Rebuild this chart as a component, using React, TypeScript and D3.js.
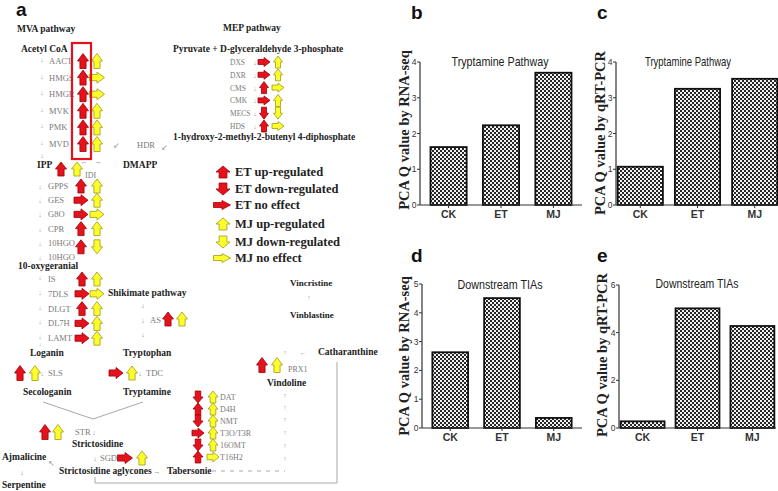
import React from 'react';
import * as d3 from 'd3';

type Dir = 'u' | 'd' | 'r' | null;

// ---------- bar chart data ----------
const groups = ['CK', 'ET', 'MJ'];
const tryptamineRnaSeq = [1.62, 2.23, 3.7];
const tryptamineQpcr = [1.07, 3.25, 3.53];
const downstreamRnaSeq = [2.63, 4.51, 0.35];
const downstreamQpcr = [0.28, 5.02, 4.28];
const ticksB = [0, 1, 2, 3, 4];
const ticksC = [0, 1, 2, 3, 4];
const ticksD = [0, 1, 2, 3, 4, 5];
const ticksE = [0, 2, 4, 6];

// ---------- pathway data (ET / MJ regulation) ----------
const mvaGenes = ['AACT', 'HMGS', 'HMGR', 'MVK', 'PMK', 'MVD'];
const mvaET: Dir[] = ['u', 'u', 'u', 'u', 'u', 'u'];
const mvaMJ: Dir[] = ['u', 'r', 'r', 'u', 'u', 'u'];

const mepGenes = ['DXS', 'DXR', 'CMS', 'CMK', 'MECS', 'HDS'];
const mepET: Dir[] = ['r', 'r', 'u', 'r', 'd', 'u'];
const mepMJ: Dir[] = ['u', 'u', 'r', 'u', 'd', 'r'];

const gppGenes = ['GPPS', 'GES', 'G8O', 'CPR', '10HGO', '10HGO'];
const gppET: Dir[] = ['u', 'r', 'r', 'u', 'u', null];
const gppMJ: Dir[] = ['u', 'u', 'r', 'u', 'd', null];

const iridGenes = ['IS', '7DLS', 'DLGT', 'DL7H', 'LAMT'];
const iridET: Dir[] = ['u', 'r', 'u', 'r', 'r'];
const iridMJ: Dir[] = ['u', 'r', 'u', 'u', 'u'];

const vinGenes = ['DAT', 'D4H', 'NMT', 'T3O/T3R', '16OMT', 'T16H2'];
const vinET: Dir[] = ['d', 'u', 'd', 'r', 'd', 'u'];
const vinMJ: Dir[] = ['u', 'u', 'u', 'u', 'u', 'r'];

const legendLabels = ['ET up-regulated', 'ET down-regulated', 'ET no effect', 'MJ up-regulated', 'MJ down-regulated', 'MJ no effect'];
const legendKinds: ('et' | 'mj')[] = ['et', 'et', 'et', 'mj', 'mj', 'mj'];
const legendDirs: Dir[] = ['u', 'd', 'r', 'u', 'd', 'r'];

const SERIF = '"Liberation Serif","Times New Roman",serif';
const SANS = '"Liberation Sans",Arial,sans-serif';
const NARROW = '"Liberation Sans Narrow","Arial Narrow","Liberation Sans",Arial,sans-serif';
const GENE_COLOR = '#7a7a7a';
const LINE_COLOR = '#a8a8a8';

function BlockArrow({ cx, cy, dir, kind, w, h }: { cx: number; cy: number; dir: Dir; kind: 'et' | 'mj'; w: number; h: number }) {
  if (!dir) return null;
  const hh = h * 0.5;
  const sw = w * 0.28;
  const p = [
    [0, -h / 2],
    [w / 2, -h / 2 + hh],
    [sw, -h / 2 + hh],
    [sw, h / 2],
    [-sw, h / 2],
    [-sw, -h / 2 + hh],
    [-w / 2, -h / 2 + hh],
  ];
  const d = 'M' + p.map((q) => q.join(',')).join('L') + 'Z';
  const rot = dir === 'u' ? 0 : dir === 'd' ? 180 : 90;
  const fill = kind === 'et' ? '#e4121c' : '#fdfd2c';
  const stroke = kind === 'et' ? '#a00008' : '#9e9a1a';
  return <path d={d} transform={`translate(${cx},${cy}) rotate(${rot})`} fill={fill} stroke={stroke} strokeWidth={0.8} />;
}

function GeneColumn(props: {
  genes: string[]; et: Dir[]; mj: Dir[]; labelX: number; y0: number; step: number;
  etX: number; mjX: number; w: number; h: number; downX?: number; fs?: number; arrowDy?: number[]; downDy?: number;
}) {
  const { genes, et, mj, labelX, y0, step, etX, mjX, w, h, downX, fs = 8.5, arrowDy, downDy = 3 } = props;
  return (
    <g>
      {genes.map((g, i) => {
        const y = y0 + i * step;
        const ady = arrowDy ? arrowDy[i] : 0;
        return (
          <g key={g + i}>
            <text x={labelX} y={y + 3} fontFamily={SERIF} fontSize={fs} fill={GENE_COLOR}>{g}</text>
            {downX !== undefined && (
              <text x={downX} y={y + downDy} fontFamily={SERIF} fontSize={7} fill="#999" textAnchor="middle">↓</text>
            )}
            <BlockArrow cx={etX} cy={y + ady} dir={et[i]} kind="et" w={w} h={h} />
            <BlockArrow cx={mjX} cy={y + ady} dir={mj[i]} kind="mj" w={w} h={h} />
          </g>
        );
      })}
    </g>
  );
}

function Bold({ x, y, children, fs = 9.5, anchor = 'start' }: { x: number; y: number; children: React.ReactNode; fs?: number; anchor?: string }) {
  return (
    <text x={x} y={y} fontFamily={SERIF} fontWeight="bold" fontSize={fs} fill="#222" textAnchor={anchor as any}>
      {children}
    </text>
  );
}

function Small({ x, y, children, fs = 7.5, color = '#999' }: { x: number; y: number; children: React.ReactNode; fs?: number; color?: string }) {
  return (
    <text x={x} y={y} fontFamily={SERIF} fontSize={fs} fill={color} textAnchor="middle">
      {children}
    </text>
  );
}

function BarPanel(props: {
  values: number[]; yMax: number; ticks: number[]; axisX: number; xStart: number; xEnd: number;
  y0: number; yTop: number; pi: number; po: number; title: string; titleX: number; titleY: number;
  titleLen: number; yTitle: string; yTitleX: number; yTitleY: number; letter: string; letterX: number; letterY: number;
}) {
  const p = props;
  const x = d3.scaleBand<string>().domain(groups).range([p.xStart, p.xEnd]).paddingInner(p.pi).paddingOuter(p.po);
  const y = d3.scaleLinear().domain([0, p.yMax]).range([p.y0, p.yTop]);
  return (
    <g>
      <text x={p.letterX} y={p.letterY} fontFamily={SANS} fontWeight="bold" fontSize={19} fill="#111">{p.letter}</text>
      <text x={p.yTitleX} y={p.yTitleY} transform={`rotate(-90,${p.yTitleX},${p.yTitleY})`} fontFamily={SERIF}
        fontWeight="bold" fontSize={14.5} fill="#222" textAnchor="middle">{p.yTitle}</text>
      <text x={p.titleX} y={p.titleY} fontFamily={NARROW} fontSize={13.5} fill="#222" textAnchor="middle"
        textLength={p.titleLen} lengthAdjust="spacingAndGlyphs">{p.title}</text>
      {groups.map((g, i) => (
        <rect key={g} x={x(g)!} y={y(p.values[i])} width={x.bandwidth()} height={p.y0 - y(p.values[i])}
          fill="url(#chk)" stroke="#111" strokeWidth={1.8} />
      ))}
      <line x1={p.axisX} x2={p.axisX} y1={p.y0} y2={p.yTop} stroke="#333" strokeWidth={1.2} />
      <line x1={p.axisX} x2={p.xEnd} y1={p.y0} y2={p.y0} stroke="#333" strokeWidth={1.2} />
      {p.ticks.map((t) => (
        <g key={t}>
          <line x1={p.axisX - 3} x2={p.axisX} y1={y(t)} y2={y(t)} stroke="#333" strokeWidth={1} />
          <text x={p.axisX - 3.5} y={y(t) + 3} fontFamily={SANS} fontSize={8.5} fill="#333" textAnchor="end">{t}</text>
        </g>
      ))}
      {groups.map((g) => (
        <g key={g}>
          <line x1={x(g)! + x.bandwidth() / 2} x2={x(g)! + x.bandwidth() / 2} y1={p.y0} y2={p.y0 + 3} stroke="#333" strokeWidth={1} />
          <text x={x(g)! + x.bandwidth() / 2} y={p.y0 + 13} fontFamily={NARROW} fontWeight="bold" fontSize={10.5} fill="#333" textAnchor="middle">{g}</text>
        </g>
      ))}
    </g>
  );
}

export default function App() {
  return (
    <svg width={778} height={491} viewBox="0 0 778 491" style={{ position: 'absolute', left: 0, top: 0, background: '#fff' }}>
      <defs>
        <pattern id="chk" width={4} height={4} patternUnits="userSpaceOnUse">
          <rect width={4} height={4} fill="#262626" />
          <rect width={2} height={2} fill="#f2f2f2" />
          <rect x={2} y={2} width={2} height={2} fill="#f2f2f2" />
        </pattern>
      </defs>
      <rect width={778} height={491} fill="#fff" />

      {/* ---------------- panel a ---------------- */}
      <text x={16} y={16} fontFamily={SANS} fontWeight="bold" fontSize={19} fill="#111">a</text>
      <Bold x={17} y={32}>MVA pathway</Bold>
      <Bold x={21} y={52}>Acetyl CoA</Bold>
      <Bold x={223} y={31}>MEP pathway</Bold>
      <Bold x={173} y={52}>Pyruvate + D-glyceraldehyde 3-phosphate</Bold>

      <GeneColumn genes={mvaGenes} et={mvaET} mj={mvaMJ} labelX={49} y0={61} step={16.6} etX={83} mjX={97} w={11} h={15} downX={42} downDy={1} />
      <Small x={42} y={158}>↓</Small>
      <rect x={72} y={43} width={19} height={116} fill="none" stroke="#e4121c" strokeWidth={2.2} />

      <GeneColumn genes={mepGenes} et={mepET} mj={mepMJ} labelX={230} y0={62} step={12.8} etX={264} mjX={278} w={9} h={12} downX={255} fs={7.5} />
      <Bold x={173} y={140}>1-hydroxy-2-methyl-2-butenyl 4-diphosphate</Bold>
      <text x={137} y={148} fontFamily={SERIF} fontSize={8.5} fill={GENE_COLOR}>HDR</text>
      <Small x={116} y={148}>↙</Small>
      <Small x={164} y={150}>↙</Small>

      <Bold x={37} y={168}>IPP</Bold>
      <BlockArrow cx={61} cy={169} dir="u" kind="et" w={11} h={14} />
      <BlockArrow cx={77} cy={169} dir="u" kind="mj" w={11} h={14} />
      <Small x={84} y={164}>←</Small>
      <Small x={98} y={164}>→</Small>
      <text x={85} y={178} fontFamily={SERIF} fontSize={8} fill={GENE_COLOR}>IDI</text>
      <Bold x={123} y={168}>DMAPP</Bold>

      <GeneColumn genes={gppGenes} et={gppET} mj={gppMJ} labelX={48} y0={186} step={14.2} etX={81} mjX={97} w={11} h={14} downX={40} arrowDy={[0, 0, 0, 0, 4, 0]} />
      <Bold x={18} y={269}>10-oxygeranial</Bold>

      <GeneColumn genes={iridGenes} et={iridET} mj={iridMJ} labelX={48} y0={279} step={14.8} etX={82} mjX={97} w={11} h={14} downX={40} downDy={1} />
      <Small x={40} y={346} fs={5.5}>↓</Small>
      <Bold x={108} y={296}>Shikimate pathway</Bold>
      <Small x={143} y={308}>↓</Small>
      <Small x={143} y={323}>↓</Small>
      <text x={150} y={323} fontFamily={SERIF} fontSize={8.5} fill={GENE_COLOR}>AS</text>
      <BlockArrow cx={168} cy={319} dir="u" kind="et" w={11} h={14} />
      <BlockArrow cx={182} cy={319} dir="u" kind="mj" w={11} h={14} />
      <Small x={143} y={337}>↓</Small>

      <Bold x={30} y={356}>Loganin</Bold>
      <Bold x={123} y={356}>Tryptophan</Bold>
      <BlockArrow cx={20} cy={373} dir="u" kind="et" w={11} h={15} />
      <BlockArrow cx={35} cy={373} dir="u" kind="mj" w={11} h={15} />
      <Small x={42} y={376}>↓</Small>
      <text x={48} y={376} fontFamily={SERIF} fontSize={8.5} fill={GENE_COLOR}>SLS</text>
      <BlockArrow cx={116} cy={373} dir="r" kind="et" w={11} h={14} />
      <BlockArrow cx={132} cy={373} dir="u" kind="mj" w={11} h={14} />
      <Small x={140} y={376}>↓</Small>
      <text x={146} y={376} fontFamily={SERIF} fontSize={8.5} fill={GENE_COLOR}>TDC</text>
      <Bold x={23} y={395}>Secologanin</Bold>
      <Bold x={123} y={395}>Tryptamine</Bold>

      <line x1={43} y1={402} x2={93} y2={419} stroke={LINE_COLOR} strokeWidth={1} />
      <line x1={143} y1={402} x2={93} y2={419} stroke={LINE_COLOR} strokeWidth={1} />
      <BlockArrow cx={45} cy={432} dir="u" kind="et" w={11} h={15} />
      <BlockArrow cx={58} cy={432} dir="u" kind="mj" w={11} h={15} />
      <text x={75} y={435} fontFamily={SERIF} fontSize={8.5} fill={GENE_COLOR}>STR</text>
      <Small x={94} y={435}>↓</Small>
      <Bold x={72} y={447}>Strictosidine</Bold>
      <Small x={95} y={461}>↓</Small>
      <text x={100} y={461} fontFamily={SERIF} fontSize={8.5} fill={GENE_COLOR}>SGD</text>
      <BlockArrow cx={125} cy={458} dir="r" kind="et" w={11} h={15} />
      <BlockArrow cx={142} cy={458} dir="u" kind="mj" w={11} h={14} />
      <Bold x={2} y={460}>Ajmalicine</Bold>
      <Small x={51} y={466}>↖</Small>
      <Small x={22} y={475}>↓</Small>
      <Bold x={59} y={474}>Strictosidine aglycones</Bold>
      <Small x={157} y={474}>→</Small>
      <Bold x={167} y={474}>Tabersonie</Bold>
      <line x1={212} y1={471} x2={285} y2={471} stroke={LINE_COLOR} strokeWidth={1} strokeDasharray="4 5" />
      <Bold x={2} y={488}>Serpentine</Bold>
      <polyline points="95,477 95,483 337,483 337,362" fill="none" stroke={LINE_COLOR} strokeWidth={1} />

      <GeneColumn genes={vinGenes} et={vinET} mj={vinMJ} labelX={220} y0={397} step={12} etX={198} mjX={213} w={10} h={12} fs={8} />
      {[395, 407, 419, 432, 445, 458].map((yy) => (
        <Small key={yy} x={285} y={yy + 3} fs={7}>↑</Small>
      ))}
      <Bold x={267} y={386}>Vindoline</Bold>
      <BlockArrow cx={262} cy={365} dir="u" kind="et" w={11} h={15} />
      <BlockArrow cx={277} cy={365} dir="u" kind="mj" w={11} h={15} />
      <text x={288} y={372} fontFamily={SERIF} fontSize={8} fill={GENE_COLOR}>PRX1</text>
      <Small x={285} y={355} fs={7}>↑</Small>
      <Small x={303} y={355} fs={7}>←</Small>
      <Bold x={318} y={355}>Catharanthine</Bold>
      <Bold x={290} y={286} fs={9}>Vincristine</Bold>
      <Small x={309} y={300} fs={7}>↑</Small>
      <Bold x={290} y={318} fs={9}>Vinblastine</Bold>

      {/* legend */}
      {legendLabels.map((lab, i) => {
        const yy = [172, 189, 205, 224, 242, 258][i];
        const dir = legendDirs[i];
        return (
          <g key={lab}>
            <BlockArrow cx={dir === 'r' ? 222 : 223} cy={yy} dir={dir} kind={legendKinds[i]} w={dir === 'r' ? 9 : 14} h={dir === 'r' ? 17 : 12} />
            <Bold x={235} y={yy + 4} fs={12.5}>{lab}</Bold>
          </g>
        );
      })}

      {/* ---------------- panels b-e ---------------- */}
      <BarPanel values={tryptamineRnaSeq} yMax={4} ticks={ticksB} axisX={420} xStart={420} xEnd={582} y0={205} yTop={62}
        pi={0.31} po={0.2} title="Tryptamine Pathway" titleX={500} titleY={66} titleLen={97}
        yTitle="PCA Q value by RNA-seq" yTitleX={409} yTitleY={130} letter="b" letterX={411} letterY={19} />
      <BarPanel values={tryptamineQpcr} yMax={4} ticks={ticksC} axisX={616} xStart={616} xEnd={779} y0={205} yTop={62}
        pi={0.21} po={0.03} title="Tryptamine Pathway" titleX={688} titleY={66} titleLen={86}
        yTitle="PCA Q value by qRT-PCR" yTitleX={605} yTitleY={133} letter="c" letterX={597} letterY={19} />
      <BarPanel values={downstreamRnaSeq} yMax={5} ticks={ticksD} axisX={422} xStart={422} xEnd={582} y0={428} yTop={284}
        pi={0.31} po={0.2} title="Downstream TIAs" titleX={500} titleY={289} titleLen={85}
        yTitle="PCA Q value by RNA-seq" yTitleX={409} yTitleY={356} letter="d" letterX={411} letterY={262} />
      <BarPanel values={downstreamQpcr} yMax={6} ticks={ticksE} axisX={619} xStart={619} xEnd={776} y0={428} yTop={285}
        pi={0.2} po={0.03} title="Downstream TIAs" titleX={697} titleY={288} titleLen={83}
        yTitle="PCA Q value by qRT-PCR" yTitleX={607} yTitleY={355} letter="e" letterX={597} letterY={262} />
    </svg>
  );
}
